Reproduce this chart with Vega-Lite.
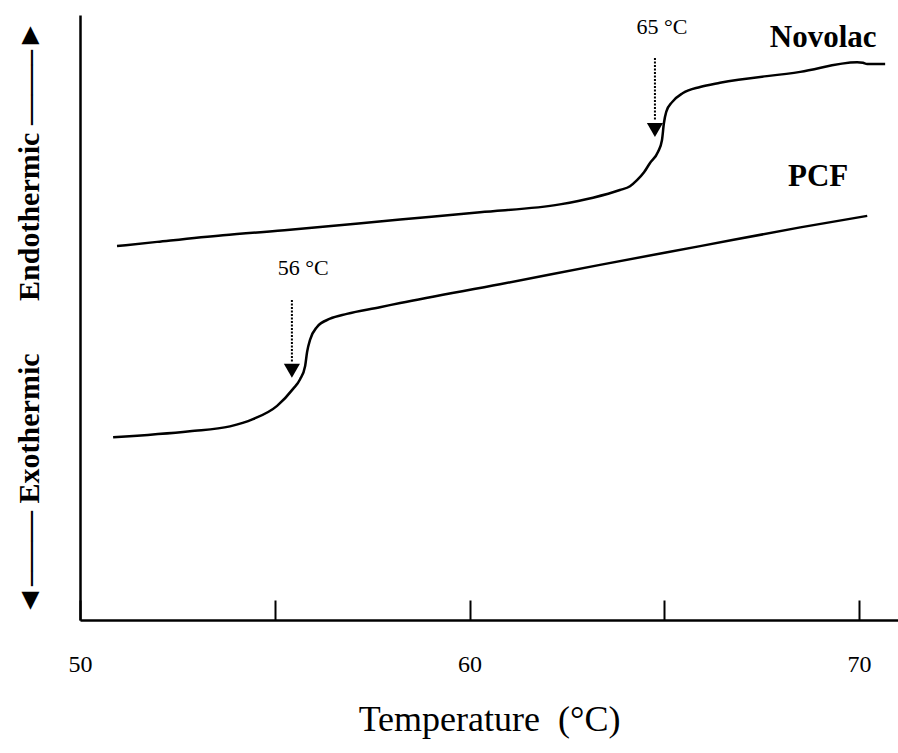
{
  "$schema": "https://vega.github.io/schema/vega-lite/v6.json",
  "width": 818,
  "height": 605,
  "autosize": "none",
  "padding": {"left": 80, "top": 15, "right": 0, "bottom": 133},
  "background": "white",
  "config": {
    "view": {"stroke": null},
    "font": "Liberation Serif"
  },
  "datasets": {
    "curves": [
      {"series": "Novolac", "T": 50.95, "v": 61.8},
      {"series": "Novolac", "T": 51.98, "v": 62.5},
      {"series": "Novolac", "T": 53.67, "v": 63.6},
      {"series": "Novolac", "T": 55.39, "v": 64.5},
      {"series": "Novolac", "T": 58.22, "v": 66.2},
      {"series": "Novolac", "T": 60.27, "v": 67.4},
      {"series": "Novolac", "T": 62.32, "v": 68.7},
      {"series": "Novolac", "T": 63.17, "v": 69.8},
      {"series": "Novolac", "T": 63.86, "v": 71.07},
      {"series": "Novolac", "T": 64.12, "v": 71.7},
      {"series": "Novolac", "T": 64.30, "v": 72.7},
      {"series": "Novolac", "T": 64.48, "v": 74.0},
      {"series": "Novolac", "T": 64.63, "v": 75.5},
      {"series": "Novolac", "T": 64.84, "v": 77.4},
      {"series": "Novolac", "T": 64.94, "v": 79.3},
      {"series": "Novolac", "T": 64.99, "v": 82.1},
      {"series": "Novolac", "T": 65.05, "v": 84.0},
      {"series": "Novolac", "T": 65.20, "v": 85.6},
      {"series": "Novolac", "T": 65.48, "v": 87.1},
      {"series": "Novolac", "T": 65.92, "v": 88.1},
      {"series": "Novolac", "T": 66.43, "v": 88.8},
      {"series": "Novolac", "T": 68.49, "v": 90.6},
      {"series": "Novolac", "T": 69.95, "v": 92.2},
      {"series": "Novolac", "T": 70.10, "v": 92.1},
      {"series": "Novolac", "T": 70.21, "v": 91.9},
      {"series": "Novolac", "T": 70.67, "v": 91.9},
      {"series": "PCF", "T": 50.85, "v": 30.2},
      {"series": "PCF", "T": 52.82, "v": 31.2},
      {"series": "PCF", "T": 53.85, "v": 32.0},
      {"series": "PCF", "T": 54.44, "v": 33.2},
      {"series": "PCF", "T": 55.06, "v": 35.4},
      {"series": "PCF", "T": 55.47, "v": 38.2},
      {"series": "PCF", "T": 55.65, "v": 39.8},
      {"series": "PCF", "T": 55.78, "v": 42.0},
      {"series": "PCF", "T": 55.83, "v": 44.3},
      {"series": "PCF", "T": 55.91, "v": 46.4},
      {"series": "PCF", "T": 56.08, "v": 48.4},
      {"series": "PCF", "T": 56.42, "v": 49.8},
      {"series": "PCF", "T": 56.85, "v": 50.6},
      {"series": "PCF", "T": 57.70, "v": 51.7},
      {"series": "PCF", "T": 58.22, "v": 52.4},
      {"series": "PCF", "T": 60.78, "v": 55.5},
      {"series": "PCF", "T": 63.35, "v": 58.7},
      {"series": "PCF", "T": 65.92, "v": 61.8},
      {"series": "PCF", "T": 68.49, "v": 64.9},
      {"series": "PCF", "T": 70.21, "v": 66.8}
    ],
    "arrows": [
      {"T": 64.76, "top": 92.9, "bottom": 82.5, "tip": 81.0},
      {"T": 55.44, "top": 52.9, "bottom": 42.6, "tip": 41.2}
    ],
    "temps": [
      {"T": 64.94, "v": 98.0, "text": "65 °C"},
      {"T": 55.73, "v": 58.2, "text": "56 °C"}
    ],
    "names": [
      {"T": 69.08, "v": 96.2, "text": "Novolac"},
      {"T": 68.95, "v": 73.2, "text": "PCF"}
    ]
  },
  "layer": [
    {
      "data": {"name": "curves"},
      "mark": {"type": "line", "interpolate": "monotone", "color": "black", "strokeWidth": 2.5},
      "encoding": {
        "x": {
          "field": "T", "type": "quantitative",
          "scale": {"domain": [50, 71], "nice": false, "zero": false},
          "axis": {
            "values": [50, 55, 60, 65, 70],
            "labelExpr": "datum.value % 10 === 0 ? datum.label : ''",
            "grid": false,
            "domainColor": "black", "domainWidth": 2.5,
            "tickColor": "black", "tickWidth": 2, "tickSize": -20,
            "labelFont": "Liberation Serif", "labelFontSize": 24, "labelColor": "black",
            "labelPadding": 52, "labelFlush": false,
            "title": "Temperature\u00a0\u00a0(°C)",
            "titleFont": "Liberation Serif", "titleFontSize": 36, "titleFontWeight": "normal",
            "titleColor": "black", "titlePadding": 26
          }
        },
        "y": {
          "field": "v", "type": "quantitative",
          "scale": {"domain": [0, 100], "nice": false},
          "axis": {
            "grid": false, "ticks": false, "labels": false,
            "domainColor": "black", "domainWidth": 2.5,
            "title": "◄–—— Exothermic\u00a0\u00a0\u00a0\u00a0\u00a0\u00a0\u00a0Endothermic ——–►",
            "titleFont": "Liberation Serif", "titleFontSize": 30, "titleFontWeight": "bold",
            "titleColor": "black", "titlePadding": 36
          }
        },
        "detail": {"field": "series"}
      }
    },
    {
      "data": {"name": "arrows"},
      "mark": {"type": "rule", "color": "black", "strokeWidth": 2, "strokeDash": [2, 1.5]},
      "encoding": {
        "x": {"field": "T", "type": "quantitative"},
        "y": {"field": "top", "type": "quantitative"},
        "y2": {"field": "bottom"}
      }
    },
    {
      "data": {"name": "arrows"},
      "mark": {"type": "point", "shape": "triangle-down", "filled": true, "color": "black", "opacity": 1, "size": 260},
      "encoding": {
        "x": {"field": "T", "type": "quantitative"},
        "y": {"field": "tip", "type": "quantitative"}
      }
    },
    {
      "data": {"name": "temps"},
      "mark": {"type": "text", "font": "Liberation Serif", "fontSize": 22, "color": "black", "baseline": "middle", "align": "center"},
      "encoding": {
        "x": {"field": "T", "type": "quantitative"},
        "y": {"field": "v", "type": "quantitative"},
        "text": {"field": "text"}
      }
    },
    {
      "data": {"name": "names"},
      "mark": {"type": "text", "font": "Liberation Serif", "fontSize": 31, "fontWeight": "bold", "color": "black", "baseline": "middle", "align": "center"},
      "encoding": {
        "x": {"field": "T", "type": "quantitative"},
        "y": {"field": "v", "type": "quantitative"},
        "text": {"field": "text"}
      }
    }
  ]
}
